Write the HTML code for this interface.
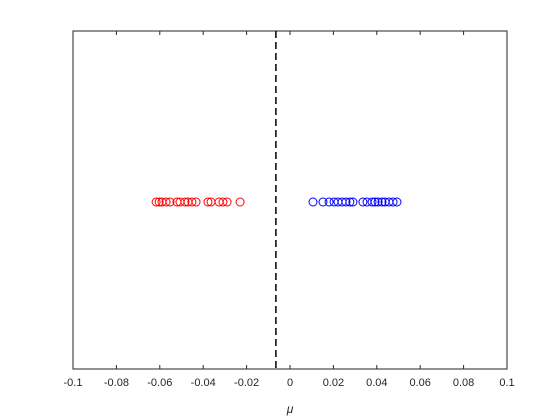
<!DOCTYPE html>
<html><head><meta charset="utf-8"><style>body{margin:0;background:#fff}svg{display:block;font-family:"Liberation Sans",sans-serif}</style></head>
<body>
<svg id="chart" width="560" height="420" xmlns="http://www.w3.org/2000/svg">
<rect x="73" y="31" width="434" height="338" fill="#fff" stroke="#262626" stroke-width="1"/>
<g id="ticks"></g><g id="marks"></g>
<text x="290" y="413" font-size="12" font-style="italic" text-anchor="middle" fill="#262626">μ</text>
</svg>
<script>
const redValues=[-0.0617,-0.0603,-0.0590,-0.0571,-0.0553,-0.0521,-0.0507,-0.0484,-0.0470,-0.0452,-0.0433,-0.0378,-0.0364,-0.0327,-0.0309,-0.0290,-0.0230];
const blueValues=[0.0106,0.0152,0.0180,0.0203,0.0221,0.0240,0.0258,0.0276,0.0290,0.0336,0.0355,0.0378,0.0392,0.0406,0.0424,0.0438,0.0456,0.0475,0.0493];
const thresholdValue=-0.0065;
const xTicks=[-0.1,-0.08,-0.06,-0.04,-0.02,0,0.02,0.04,0.06,0.08,0.1];
const xTickLabels=["-0.1","-0.08","-0.06","-0.04","-0.02","0","0.02","0.04","0.06","0.08","0.1"];
const NS="http://www.w3.org/2000/svg";
const X=v=>73+(v+0.1)/0.2*434;
const Y=v=>202-v*169;
const ticks=document.getElementById('ticks'),marks=document.getElementById('marks');
function mk(t,a,p){const e=document.createElementNS(NS,t);for(const k in a)e.setAttribute(k,a[k]);p.appendChild(e);return e;}
xTicks.forEach((v,i)=>{
 const l=mk('line',{x1:X(v),x2:X(v),y1:369,y2:365,stroke:'#262626'},ticks);
 
 
 const l2=mk('line',{x1:X(v),x2:X(v),y1:31,y2:35,stroke:'#262626'},ticks);
 
 
 const t=mk('text',{x:X(v),y:386,'font-size':11,'text-anchor':'middle',fill:'#262626'},ticks);
 t.textContent=xTickLabels[i];
 
 
});
const d=mk('line',{x1:X(thresholdValue),x2:X(thresholdValue),y1:31,y2:369,stroke:'#000','stroke-width':1.5,'stroke-dasharray':'7,4'},marks);


redValues.forEach(v=>{const c=mk('circle',{cx:X(v),cy:Y(0),r:4,fill:'none',stroke:'#f00'},marks);
 
 });
blueValues.forEach(v=>{const c=mk('circle',{cx:X(v),cy:Y(0),r:4,fill:'none',stroke:'#00f'},marks);
 
 });
</script>
</body></html>
